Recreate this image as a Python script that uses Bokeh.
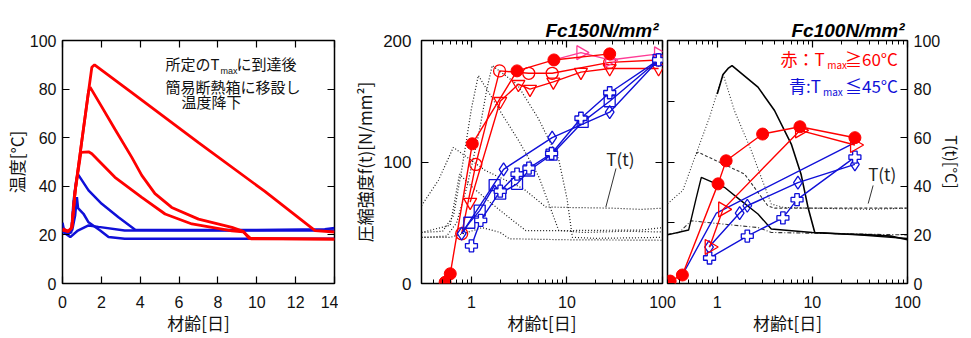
import math
from bokeh.plotting import figure
from bokeh.models import (Range1d, LinearAxis, LogAxis, FixedTicker, Label,
                          PrintfTickFormatter, CustomJSTickFormatter)
from bokeh.layouts import row
from bokeh.embed import file_html
from bokeh.resources import INLINE

# ---------------- data: left panel (temperature history, linear days) ----------
red1_t = [0, 0.3, 0.48, 0.65, 1.0, 1.34, 1.51, 1.65, 3.5, 7.0, 10.4, 13.0, 14]
red1_T = [22.5, 21.5, 23, 38, 59, 79, 89, 90, 79, 58, 38, 21.8, 21.2]
red2_t = [0, 0.3, 0.48, 0.65, 1.0, 1.34, 1.42, 2.0, 2.7, 3.56, 4.08, 4.76, 5.62, 7.0, 8.72, 9.3, 9.6, 14]
red2_T = [22, 21.5, 23, 38, 59, 79, 80.8, 73, 63.5, 52, 44.5, 37, 31.3, 26.5, 23.1, 21.5, 18.6, 18.3]
red3_t = [0, 0.3, 0.48, 0.65, 0.95, 1.34, 1.51, 2.7, 4.08, 5.28, 6.66, 8.72, 9.3, 9.7, 14]
red3_T = [22, 21.5, 23, 38, 54, 54.2, 53.4, 43.7, 35.4, 28.6, 24.5, 21.7, 21.3, 18.4, 18.3]
blue1_t = [0, 0.1, 0.3, 0.45, 0.57, 0.7, 0.79, 1.34, 2.02, 2.88, 3.74, 6, 10, 13.5, 14]
blue1_T = [25, 21, 20.5, 21, 34, 42, 45, 38.3, 32.8, 27.3, 22.1, 22, 22, 22.3, 22.8]
blue2_t = [0, 0.3, 0.5, 0.65, 0.74, 0.8, 1.08, 1.34, 1.94, 2.37, 3.2, 14]
blue2_T = [23, 21, 22, 28, 35.5, 31, 28.7, 25.2, 21.8, 19.1, 18.4, 18.4]
blue3_t = [0, 0.4, 0.79, 1.34, 1.85, 3.2, 14]
blue3_T = [21.4, 19.1, 21.8, 23.9, 23.3, 21.8, 21.8]

# ---------------- data: middle panel Fc150 (strength, log days) ---------------
m_rf_t = [0.53, 0.60, 1.02, 3.0, 7.3, 28]
m_rf_f = [1, 8, 115, 175, 184, 189]
m_ro_t = [0.79, 1.11, 1.97, 3.98, 7.0, 28, 91]
m_ro_f = [41, 98, 175, 173, 173, 182, 184]
m_rv_t = [0.97, 2.0, 3.1, 4.1, 7.2, 14, 28, 91]
m_rv_f = [67, 150, 164, 160, 166, 174, 177, 177]
m_pk_t = [7.3, 14, 28, 91]
m_pk_f = [184, 190, 184, 189]
m_bd_t = [0.79, 2.17, 7.0, 28, 91]
m_bd_f = [41, 94, 120, 141, 184]
m_bs_t = [0.79, 0.95, 1.22, 1.75, 2.0, 3.0, 4.0, 6.9, 14.6, 28, 91]
m_bs_f = [41, 50, 60, 81, 74, 82, 93, 106, 133, 150, 184]
m_bc_t = [1.0, 1.25, 2.0, 3.0, 4.0, 6.9, 14, 28, 91]
m_bc_f = [31, 52, 76, 90, 95, 107, 136, 157, 184]
# temperature histories drawn on the T scale (dotted)
mT1_t = [0.3, 0.55, 0.7, 0.9, 1.2, 1.45, 1.65, 3, 5, 8.2, 10, 11.4, 20, 50, 100]
mT1_T = [19, 19.5, 25, 40, 62, 80, 89.7, 82, 68, 51, 35, 19, 18.6, 18.8, 19]
mT2_t = [0.3, 0.5, 0.65, 0.8, 1.0, 1.18, 2.08, 3.12, 4.68, 5.1, 8.2, 15, 40, 100]
mT2_T = [21, 21.5, 28, 48, 72, 85.6, 69.8, 58.8, 46.5, 43.7, 21.8, 21, 21.5, 21.2]
mT3_t = [0.3, 0.45, 0.646, 1.4, 3.5, 6, 10, 30, 60, 100]
mT3_T = [32, 42.4, 56, 46.5, 39, 31.5, 31.3, 31, 30.5, 31]
mT4_t = [0.3, 0.6, 0.75, 1.0, 1.5, 2.5, 3.7, 10, 60, 100]
mT4_T = [21, 24, 45, 40, 34, 27, 21.8, 21.8, 22, 23]
mT5_t = [0.3, 0.6, 0.9, 1.3, 2.0, 2.5, 10, 100]
mT5_T = [19, 19, 21, 23, 21, 18.4, 18, 17.8]

# ---------------- data: right panel Fc100 ---------------------------------------
r_rf_t = [0.32, 0.43, 1.02, 1.24, 3.0, 7.4, 28]
r_rf_f = [2, 7, 82, 101, 123, 129, 120]
r_rt_t = [0.83, 1.15, 7.4, 28]
r_rt_f = [30, 61, 126, 114]
r_bl_t = [0.43, 0.98, 28]
r_bl_f = [7, 58, 116]
r_bd_t = [0.82, 1.72, 2.07, 7.05, 28]
r_bd_f = [30, 58, 64, 83, 98]
r_bc_t = [0.83, 2.07, 4.9, 6.9, 28]
r_bc_f = [21, 39, 54, 69, 104]
rT1_t = [1.0, 1.15, 1.3, 1.43, 2.68, 4.0, 6.0, 7.6, 9.0, 10.6, 20, 40, 67, 100]
rT1_T = [78, 86, 88.5, 89.7, 80.8, 71.2, 57.4, 45, 31.3, 21, 20.5, 20, 19.5, 18]
rT2_t = [0.3, 0.5, 0.6, 0.68, 1.19, 1.79, 2.68, 3.7, 10, 30, 100]
rT2_T = [20, 22, 35, 43.7, 39.6, 34, 28.6, 22.4, 21, 20, 18.5]
rT3_t = [0.3, 0.435, 0.6, 0.83, 1.15, 1.52, 2.28, 2.9, 3.7, 5, 10, 40, 100]
rT3_T = [32.8, 38.3, 53.4, 68.4, 86.3, 71, 54.7, 43.7, 32.7, 31.3, 31, 30.5, 31]
rT4_t = [0.6, 0.63, 1.19, 1.94, 3.4, 4, 10, 100]
rT4_T = [53.4, 54, 49, 45, 32, 31, 31, 31]
rT5_t = [0.3, 0.4, 0.53, 1.0, 2.7, 3.7, 100]
rT5_T = [20.3, 21, 25.8, 24.7, 23, 21, 20]

log_major = [1, 10, 100]
log_minor = [0.3, 0.4, 0.5, 0.6, 0.7, 0.8, 0.9, 2, 3, 4, 5, 6, 7, 8, 9,
             20, 30, 40, 50, 60, 70, 80, 90]

RED = "#ff0000"
BLUE = "#1010d8"
PINK = "#ff3c96"
NUM_FONT = "Liberation Sans"
JP_FONT = "Noto Sans CJK JP"


def style_axis(ax, size="17px"):
    ax.major_tick_in = 7
    ax.major_tick_out = 0
    ax.minor_tick_in = 4
    ax.minor_tick_out = 0
    ax.axis_line_color = None
    ax.major_tick_line_color = "black"
    ax.major_tick_line_width = 1.2
    ax.minor_tick_line_color = "black"
    ax.major_label_text_font = NUM_FONT
    ax.major_label_text_color = "#111111"
    ax.major_label_text_font_size = size
    ax.axis_label_text_font = JP_FONT
    ax.axis_label_text_font_style = "normal"
    ax.axis_label_text_font_size = "17px"
    ax.axis_label_text_color = "#111111"


def mirror_axis(cls, ticks, minor=(), **kw):
    ax = cls(ticker=FixedTicker(ticks=list(ticks), minor_ticks=list(minor)), **kw)
    style_axis(ax, size="1px")
    ax.formatter = CustomJSTickFormatter(code="return ''")
    ax.major_label_text_color = None
    ax.major_label_text_alpha = 0
    ax.major_label_standoff = 0
    return ax


def base_fig(**kw):
    p = figure(output_backend="svg", toolbar_location=None, **kw)
    p.grid.visible = False
    p.outline_line_color = "black"
    p.outline_line_width = 1.5
    p.min_border_top = 40
    p.min_border_bottom = 54
    return p


def bottom_style(ax, size="16px"):
    style_axis(ax, size=size)
    ax.major_label_standoff = 12
    ax.axis_label_standoff = -1


# ================= left panel =================
p1 = base_fig(frame_width=272, frame_height=243, x_range=Range1d(0, 14), y_range=Range1d(0, 100))
p1.min_border_left = 56
p1.min_border_right = 4
p1.xaxis.ticker = FixedTicker(ticks=[0, 2, 4, 6, 8, 10, 12, 14], minor_ticks=[])
p1.yaxis.ticker = FixedTicker(ticks=[0, 20, 40, 60, 80, 100], minor_ticks=[])
p1.xaxis.axis_label = "材齢[日]"
p1.yaxis.axis_label = "温度[°C]"
for ax in p1.xaxis:
    bottom_style(ax)
for ax in p1.yaxis:
    style_axis(ax, size="16px")
p1.yaxis.major_label_standoff = 6
p1.yaxis.axis_label_standoff = -2
p1.add_layout(mirror_axis(LinearAxis, [0, 2, 4, 6, 8, 10, 12, 14]), "above")
p1.add_layout(mirror_axis(LinearAxis, [0, 20, 40, 60, 80, 100]), "right")

for t, T in [(blue3_t, blue3_T), (blue2_t, blue2_T), (blue1_t, blue1_T)]:
    p1.line(t, T, color=BLUE, line_width=2.5)
for t, T in [(red3_t, red3_T), (red2_t, red2_T), (red1_t, red1_T)]:
    p1.line(t, T, color=RED, line_width=2.8)

txt = dict(text_font=JP_FONT, text_font_size="15px", text_color="#111111",
           text_baseline="middle")
p1.add_layout(Label(x=5.30, y=90.5, text="所定のT", **txt))
p1.add_layout(Label(x=8.13, y=87.5, text="max", text_font=NUM_FONT,
                    text_font_size="9px", text_color="#111111", text_baseline="middle"))
p1.add_layout(Label(x=8.96, y=90.5, text="に到達後", **txt))
p1.add_layout(Label(x=5.30, y=80.9, text="簡易断熱箱に移設し", **txt))
p1.add_layout(Label(x=6.12, y=74.9, text="温度降下", **txt))


def set_title(p, text, offset):
    p.title.text = text
    p.title.align = "right"
    p.title.offset = offset
    p.title.standoff = 0
    p.title.text_font = NUM_FONT
    p.title.text_font_size = "19px"
    p.title.text_font_style = "bold italic"
    p.title.text_color = "black"


# ================= middle panel =================
p2 = base_fig(frame_width=241, frame_height=243, x_axis_type="log",
              x_range=Range1d(0.3, 100), y_range=Range1d(0, 200))
p2.min_border_left = 83
p2.min_border_right = 16
p2.border_fill_alpha = 0
p2.styles = {"z-index": "2"}
p2.extra_y_ranges = {"T": Range1d(0, 100)}
p2.xaxis.ticker = FixedTicker(ticks=log_major, minor_ticks=log_minor)
p2.xaxis.formatter = PrintfTickFormatter(format="%d")
p2.yaxis.ticker = FixedTicker(ticks=[0, 100, 200], minor_ticks=[])
p2.xaxis.axis_label = "材齢t[日]"
p2.yaxis.axis_label = "圧縮強度f(t)[N/mm²]"
for ax in p2.xaxis:
    bottom_style(ax)
for ax in p2.yaxis:
    style_axis(ax, size="17px")
p2.yaxis.major_label_standoff = 10
p2.yaxis.axis_label_standoff = 3
p2.add_layout(mirror_axis(LogAxis, log_major, log_minor), "above")
p2.add_layout(mirror_axis(LinearAxis, [0, 100, 200]), "right")
set_title(p2, "Fc150N/mm²", 4)

dot = dict(color="#1a1a1a", line_width=1.2, line_dash="1 2", y_range_name="T")
for t, T in [(mT1_t, mT1_T), (mT2_t, mT2_T), (mT3_t, mT3_T), (mT4_t, mT4_T), (mT5_t, mT5_T)]:
    p2.line(t, T, **dot)

# red series
p2.line(m_rv_t, m_rv_f, color=RED, line_width=1.4)
p2.scatter(m_rv_t, m_rv_f, marker="inverted_triangle", size=13, line_color=RED,
           fill_alpha=0, line_width=1.3)
p2.line(m_ro_t, m_ro_f, color=RED, line_width=1.4)
p2.scatter(m_ro_t, m_ro_f, marker="circle", size=12, line_color=RED, fill_alpha=0,
           line_width=1.3)
p2.line(m_pk_t, m_pk_f, color=PINK, line_width=1.4)
p2.scatter(m_pk_t[1:], m_pk_f[1:], marker="triangle", angle=-math.pi / 2, size=14,
           line_color=PINK, fill_alpha=0, line_width=1.3)
p2.line(m_rf_t, m_rf_f, color=RED, line_width=1.4)
p2.scatter(m_rf_t, m_rf_f, marker="circle", size=12, color=RED)
# blue series
p2.line(m_bs_t, m_bs_f, color=BLUE, line_width=1.4)
p2.scatter(m_bs_t[1:], m_bs_f[1:], marker="square", size=11, line_color=BLUE,
           fill_alpha=0, line_width=1.3)
p2.line(m_bd_t, m_bd_f, color=BLUE, line_width=1.4)
p2.scatter(m_bd_t, m_bd_f, marker="diamond", size=13, line_color=BLUE, fill_alpha=0,
           line_width=1.3)
p2.line(m_bc_t, m_bc_f, color=BLUE, line_width=1.4)
p2.scatter(m_bc_t, m_bc_f, marker="plus", size=12, line_color=BLUE, fill_color="white",
           line_width=1.3)

p2.add_layout(Label(x=25.8, y=102.9, text="T(t)", text_font=JP_FONT,
                    text_font_size="17px", text_baseline="middle", text_color="#222222"))
p2.segment(x0=[32.6], y0=[94.7], x1=[25.5], y1=[62.8], color="#333333", line_width=1)

# ================= right panel =================
p3 = base_fig(frame_width=240, frame_height=243, x_axis_type="log",
              x_range=Range1d(0.3, 100), y_range=Range1d(0, 200))
p3.min_border_left = 3
p3.min_border_right = 54
p3.margin = (0, 0, 0, -14)
p3.border_fill_alpha = 0
p3.extra_y_ranges = {"T": Range1d(0, 100)}
p3.xaxis.ticker = FixedTicker(ticks=log_major, minor_ticks=log_minor)
p3.xaxis.formatter = PrintfTickFormatter(format="%d")
p3.xaxis.axis_label = "材齢t[日]"
for ax in p3.xaxis:
    bottom_style(ax)
# left axis of this panel: ticks only
p3.yaxis.visible = False
p3.add_layout(mirror_axis(LinearAxis, [0, 50, 100, 150, 200]), "left")
p3.add_layout(mirror_axis(LogAxis, log_major, log_minor), "above")
a = LinearAxis(y_range_name="T",
               ticker=FixedTicker(ticks=[0, 20, 40, 60, 80, 100], minor_ticks=[]),
               axis_label="T(t)[°C]")
style_axis(a, size="16px")
a.axis_label_text_font_size = "16px"
a.major_label_standoff = 6
a.axis_label_standoff = -3
p3.add_layout(a, "right")
set_title(p3, "Fc100N/mm²", 3)

p3.line(rT5_t, rT5_T, color="#333333", line_width=1.1, line_dash="4 2 1 2", y_range_name="T")
p3.line(rT3_t, rT3_T, color="#333333", line_width=1.1, line_dash="1 2", y_range_name="T")
p3.line(rT4_t, rT4_T, color="#333333", line_width=1.1, line_dash="3 2", y_range_name="T")
p3.line(rT2_t, rT2_T, color="black", line_width=1.4, y_range_name="T")
p3.line(rT1_t, rT1_T, color="black", line_width=1.6, y_range_name="T")

p3.line(r_bl_t, r_bl_f, color=BLUE, line_width=1.4)
p3.line(r_bd_t, r_bd_f, color=BLUE, line_width=1.4)
p3.scatter(r_bd_t, r_bd_f, marker="diamond", size=13, line_color=BLUE, fill_alpha=0,
           line_width=1.3)
p3.line(r_bc_t, r_bc_f, color=BLUE, line_width=1.4)
p3.scatter(r_bc_t, r_bc_f, marker="plus", size=12, line_color=BLUE, fill_color="white",
           line_width=1.3)
p3.line(r_rt_t, r_rt_f, color=RED, line_width=1.4)
p3.scatter(r_rt_t, r_rt_f, marker="triangle", angle=-math.pi / 2, size=15, line_color=RED,
           fill_alpha=0, line_width=1.3)
p3.line(r_rf_t, r_rf_f, color=RED, line_width=1.4)
p3.scatter(r_rf_t, r_rf_f, marker="circle", size=12, color=RED)

leg = dict(text_font=JP_FONT, text_font_size="17px", text_baseline="middle")
sub = dict(text_font=JP_FONT, text_font_size="10px", text_baseline="middle")
p3.add_layout(Label(x=13.5, y=185.2, text="赤：T", text_align="right", text_color=RED, **leg))
p3.add_layout(Label(x=14.3, y=180.5, text="max", text_align="left", text_color=RED, **sub))
p3.add_layout(Label(x=22.0, y=185.2, text="≧60°C", text_align="left", text_color=RED, **leg))
p3.add_layout(Label(x=12.3, y=163.0, text="青:T", text_align="right", text_color=BLUE, **leg))
p3.add_layout(Label(x=12.9, y=158.3, text="max", text_align="left", text_color=BLUE, **sub))
p3.add_layout(Label(x=22.0, y=163.0, text="≦45°C", text_align="left", text_color=BLUE, **leg))
p3.add_layout(Label(x=38.6, y=90.5, text="T(t)", text_font=JP_FONT,
                    text_font_size="17px", text_baseline="middle", text_color="#222222"))
p3.segment(x0=[43.5], y0=[80.7], x1=[38.6], y1=[65.8], color="#333333", line_width=1)

layout = row(p1, p2, p3)
open("out.html", "w").write(file_html(layout, INLINE))
